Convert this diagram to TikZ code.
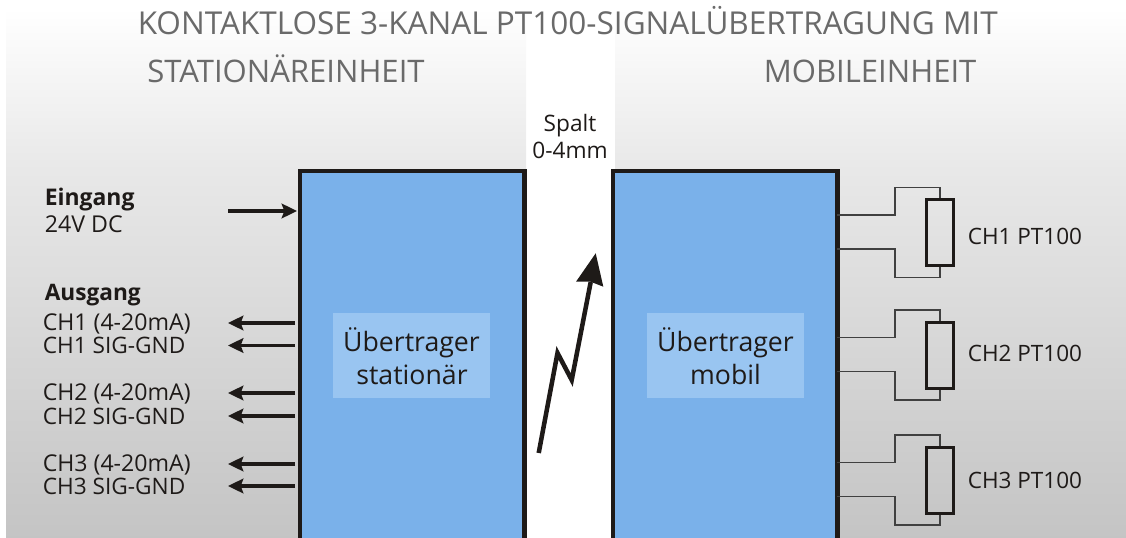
\documentclass[tikz,border=0pt]{standalone}
\usepackage{fontspec}
\setmainfont{Open Sans}
\usetikzlibrary{arrows.meta,calc}
\definecolor{boxblue}{HTML}{7AB1EA}
\definecolor{innerblue}{HTML}{99C5F1}
\definecolor{ink}{HTML}{1E1A18}
\definecolor{titlegray}{HTML}{6A6A6A}
\tikzset{
  px/.style={x=0.75pt,y=-0.75pt},
  lab/.style={anchor=base west,inner sep=0pt,text=ink},
  ctr/.style={anchor=base,inner sep=0pt,text=ink},
  titlelab/.style={anchor=base west,inner sep=0pt,text=titlegray,font=\fontsize{23.65}{26}\selectfont},
  sublab/.style={anchor=base west,inner sep=0pt,text=titlegray,font=\fontsize{23.3}{26}\selectfont},
  chan/.style={lab,font=\fontsize{17}{19}\selectfont},
  chanw/.style={lab,font=\fontsize{17.35}{19}\selectfont},
  pt/.style={lab,font=\fontsize{16.9}{19}\selectfont},
  big/.style={ctr,font=\fontsize{20}{22}\selectfont},
  mid/.style={lab,font=\fontsize{17.4}{19}\selectfont},
  sigarrow/.style={-{Stealth[length=11.5pt,width=11pt,inset=2pt]},line width=2.3pt,color=ink},
  wire/.style={line width=1pt,color=black!75},
  res/.style={draw=ink,line width=2pt,fill=none,minimum width=20pt,minimum height=49.5pt,inner sep=0pt},
  boxfill/.style={fill=boxblue,inner sep=0pt},
  inner/.style={fill=innerblue,inner sep=0pt},
  frame/.style={line width=3.2pt,color=ink,line join=miter},
}
\pgfdeclareverticalshading{bg}{100bp}{
  color(0bp)=(white!77!black);
  color(25bp)=(white!77!black);
  color(42.7bp)=(white!84!black);
  color(59.7bp)=(white!91!black);
  color(75bp)=(white!100!black);
  color(100bp)=(white!100!black)}
\begin{document}
\begin{tikzpicture}[px]
\useasboundingbox (0,0) rectangle (1126,538);
% background panels
\path[shading=bg] (6,8) rectangle (526,537);
\path[shading=bg] (615,8) rectangle (1126,537);
% blue boxes
\node[boxfill,minimum width=168pt,minimum height=275.25pt,anchor=north west] (st) at (300,171) {};
\node[boxfill,minimum width=168pt,minimum height=275.25pt,anchor=north west] (mo) at (613,171) {};
\draw[frame] (st.south west) -- (st.north west) -- (st.north east) -- (st.south east);
\draw[frame] (mo.south west) -- (mo.north west) -- (mo.north east) -- (mo.south east);
\node[inner,minimum width=117.75pt,minimum height=63.75pt,anchor=north west] (sti) at (333,313) {};
\node[inner,minimum width=117.75pt,minimum height=63.75pt,anchor=north west] (moi) at (647,313) {};
% titles
\node[titlelab] (t1) at (137.5,34.5) {KONTAKTLOSE 3-KANAL PT100-SIGNALÜBERTRAGUNG MIT};
\node[sublab] (t2) at (147,82.7) {STATIONÄREINHEIT};
\node[sublab] (t3) at (763.5,82.7) {MOBILEINHEIT};
% gap label
\node[ctr,font=\fontsize{17}{19}\selectfont] (sp1) at (570,131.5) {Spalt};
\node[ctr,font=\fontsize{17}{19}\selectfont] (sp2) at (570,159) {0-4mm};
% block labels
\node[big] (a1) at (411.5,351) {Übertrager};
\node[big] (a2) at (412,384.5) {stationär};
\node[big] (b1) at (725.5,351) {Übertrager};
\node[big] (b2) at (725.5,384.5) {mobil};
% left labels
\node[mid,font=\bfseries\fontsize{17.2}{19}\selectfont] (ein) at (44.5,205.5) {Eingang};
\node[mid] (dc) at (44.5,233) {24V DC};
\node[chan,font=\bfseries\fontsize{17}{19}\selectfont] (aus) at (44.5,300.5) {Ausgang};
\node[chanw] (c1a) at (42.5,330) {CH1 (4-20mA)};
\node[chan] (c1b) at (42.5,353.3) {CH1 SIG-GND};
\node[chanw] (c2a) at (42.5,400.5) {CH2 (4-20mA)};
\node[chan] (c2b) at (42.5,424) {CH2 SIG-GND};
\node[chanw] (c3a) at (42.5,471) {CH3 (4-20mA)};
\node[chan] (c3b) at (42.5,494) {CH3 SIG-GND};
% arrows
\coordinate (in0) at (228,211);
\draw[sigarrow] (in0) -- (297,211);
\foreach \n/\y in {o1/323,o2/345.5,o3/393,o4/416,o5/464,o6/486}{
  \coordinate (\n) at (295,\y);
  \coordinate (\n e) at (228,\y);
  \draw[sigarrow] (\n) -- (\n e);
}
% lightning
\coordinate (l0) at (538.7,453);
\coordinate (l1) at (557.5,353);
\coordinate (l2) at (571.7,380);
\coordinate (l3) at (590.7,282);
\draw[line width=3.4pt,color=ink,miter limit=10] (l0) -- (l1) -- (l2) -- (l3);
\fill[ink] (595.7,253.3) -- (603.3,286.7) -- (590,281.5) -- (576,281.7) -- cycle;
% PT100 channels
\foreach \n/\d/\lab/\b in {1/0/CH1/244,2/122.5/CH2/361,3/247.5/CH3/488}{
  \node[res] (r\n) at (940,{232.75+\d}) {};
  \coordinate (wa\n) at (837,{215+\d});
  \coordinate (wb\n) at (837,{249+\d});
  \draw[wire] (wa\n) -- (895,{215+\d}) -- (895,{187.5+\d}) -| (r\n.north);
  \draw[wire] (wb\n) -- (895,{249+\d}) -- (895,{277.5+\d}) -| (r\n.south);
  \node[pt] (p\n) at (967.5,\b) {\lab\ PT100};
}
\end{tikzpicture}
\end{document}
